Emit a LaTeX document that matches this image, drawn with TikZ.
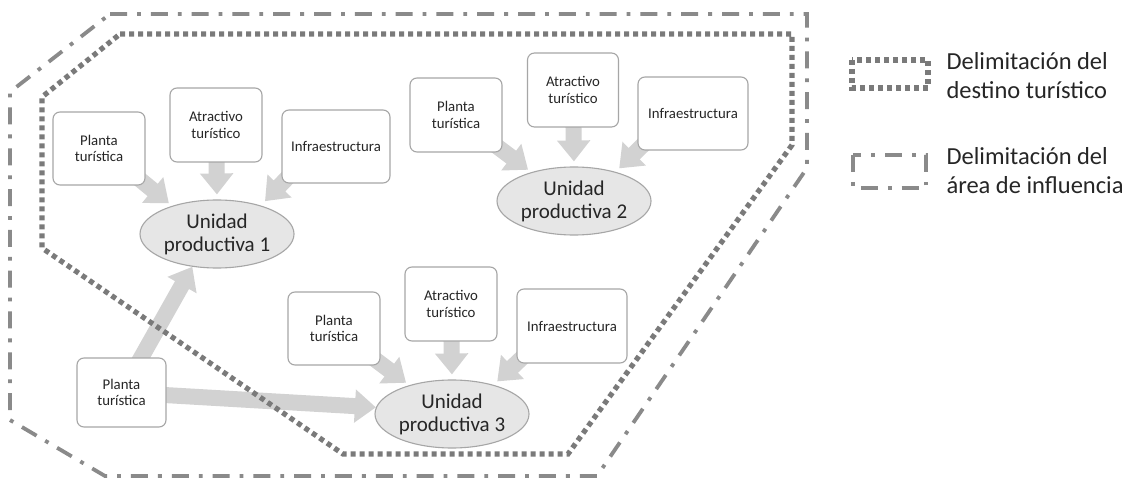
\documentclass[tikz,border=0pt]{standalone}
\usepackage{fontspec}
\setmainfont{Carlito}
\usetikzlibrary{arrows.meta,calc,shapes.geometric}
\pgfdeclarelayer{bg}
\pgfsetlayers{bg,main}
\definecolor{linegray}{HTML}{7A7A7A}
\definecolor{dashgray}{HTML}{8A8A8A}
\definecolor{boxborder}{HTML}{A6A6A6}
\definecolor{ellfill}{HTML}{E6E6E6}
\definecolor{arrowgray}{HTML}{D2D2D2}
\definecolor{txt}{HTML}{262626}
\begin{document}
\begin{tikzpicture}[x=1pt,y=-1pt,
  box/.style={draw=boxborder, line width=1.1pt, fill=white, rounded corners=7pt, align=center, inner sep=0pt, text=txt, font=\fontsize{14.8}{16.5}\selectfont},
  unit/.style={ellipse, draw=boxborder, line width=1.1pt, fill=ellfill, minimum width=154pt, minimum height=68pt, inner sep=0pt, align=center, text=txt, font=\fontsize{21}{23}\selectfont},
  flow/.style={line width=16pt, draw=arrowgray, -{Triangle[length=21pt,width=32pt]}},
  destino/.style={draw=linegray, line width=5.2pt, dash pattern=on 5pt off 4pt},
  influencia/.style={draw=dashgray, line width=3.8pt, dash pattern=on 17pt off 10pt on 3.8pt off 10pt},
  legend/.style={anchor=west, align=left, text=txt, font=\fontsize{24.5}{29}\selectfont}
]
\begin{pgfonlayer}{bg}
\fill[white] (0,0) rectangle (1132,478);
\end{pgfonlayer}
\useasboundingbox (0,0) rectangle (1132,478);

% boundaries
\draw[influencia] (110,14) -- (807,14) -- (807,168) -- (597,476) -- (105,476) -- (10,420) -- (10,92) -- cycle;
\draw[destino] (120,34) -- (792,34) -- (792,145) -- (568,454) -- (343,454) -- (42,248) -- (42,97) -- cycle;

% group 1
\node[box, minimum width=92pt, minimum height=73pt] (p1) at (99,148.5) {Planta\\turística};
\node[box, minimum width=92pt, minimum height=74pt] (a1) at (216,125) {Atractivo\\turístico};
\node[box, minimum width=108pt, minimum height=73pt] (i1) at (336,146.5) {Infraestructura};
\node[unit] (u1) at (217,234) {Unidad\\productiva 1};

% group 2
\node[box, minimum width=92pt, minimum height=74pt] (p2) at (456,115) {Planta\\turística};
\node[box, minimum width=91pt, minimum height=74pt] (a2) at (573,90) {Atractivo\\turístico};
\node[box, minimum width=110pt, minimum height=73pt] (i2) at (693,113.5) {Infraestructura};
\node[unit] (u2) at (574,201) {Unidad\\productiva 2};

% group 3
\node[box, minimum width=92pt, minimum height=73pt] (p3) at (334,328.5) {Planta\\turística};
\node[box, minimum width=92pt, minimum height=74pt] (a3) at (451,304) {Atractivo\\turístico};
\node[box, minimum width=110pt, minimum height=74pt] (i3) at (572,326) {Infraestructura};
\node[unit] (u3) at (452,414) {Unidad\\productiva 3};

% lone plant
\node[box, minimum width=89pt, minimum height=69pt] (l) at (121.5,392.5) {Planta\\turística};

\begin{pgfonlayer}{bg}
\draw[flow, shorten >=4pt] ($(p1.south east)+(-8,-8)$) -- (u1.148);
\draw[flow, shorten >=5pt] (a1.center) -- (u1.north);
\draw[flow, shorten >=6pt] ($(i1.south west)+(8,-8)$) -- (u1.33);
\draw[flow, shorten >=4pt] ($(p2.south east)+(-8,-8)$) -- (u2.146);
\draw[flow, shorten >=5pt] (a2.center) -- (u2.north);
\draw[flow, shorten >=5pt] ($(i2.south west)+(8,-8)$) -- (u2.35);
\draw[flow, shorten >=4pt] ($(p3.south east)+(-8,-8)$) -- (u3.146);
\draw[flow, shorten >=5pt] (a3.center) -- (u3.north);
\draw[flow, shorten >=5pt] ($(i3.south west)+(8,-8)$) -- (u3.35);
\draw[flow] (l.center) -- (u1.233);
\draw[flow] (l.center) -- (u3.175);
\end{pgfonlayer}

% legend
\draw[destino] (852,60) rectangle (928,88);
\node[legend] (leg1) at (943,76) {Delimitación del\\destino turístico};
\draw[influencia] (853,155) rectangle (926,188);
\node[legend] (leg2) at (943,171) {Delimitación del\\área de influencia};
\end{tikzpicture}
\end{document}
